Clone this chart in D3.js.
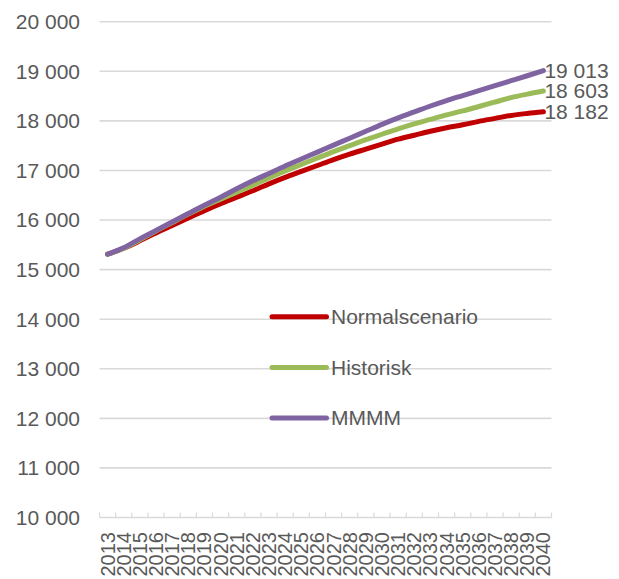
<!DOCTYPE html>
<html>
<head>
<meta charset="utf-8">
<script src="https://cdn.jsdelivr.net/npm/d3@7"></script>
<style>
  html, body { margin: 0; padding: 0; background: #fff; }
  svg { display: block; }
  text { font-family: "Liberation Sans", Arial, sans-serif; fill: #595959; }
</style>
</head>
<body>
<svg id="chart" width="619" height="579"></svg>
<script>
const years = ["2013","2014","2015","2016","2017","2018","2019","2020","2021","2022","2023","2024","2025","2026","2027","2028","2029","2030","2031","2032","2033","2034","2035","2036","2037","2038","2039","2040"];
const normalscenario = [15310,15430,15580,15740,15890,16040,16190,16330,16460,16590,16730,16860,16980,17100,17220,17330,17430,17530,17630,17710,17790,17860,17920,17990,18050,18110,18150,18182];
const historisk = [15310,15430,15600,15780,15950,16120,16280,16420,16560,16700,16850,16990,17120,17250,17380,17500,17620,17730,17840,17940,18030,18120,18200,18290,18380,18470,18540,18603];
const mmmm = [15310,15440,15620,15790,15960,16130,16300,16460,16630,16790,16940,17090,17230,17370,17510,17650,17790,17930,18060,18180,18300,18410,18510,18610,18710,18810,18910,19013];
const yTicks = [10000,11000,12000,13000,14000,15000,16000,17000,18000,19000,20000];
const seriesNames = ["Normalscenario","Historisk","MMMM"];
const seriesColors = ["#C00000","#9BBB59","#8064A2"];
const endLabels = ["18 182","18 603","19 013"];

const svg = d3.select("#chart");
const pLeft = 99.5, pRight = 551.5, pTop = 21.7, pBottom = 517.5;

const x = d3.scaleBand().domain(years).range([pLeft, pRight]).padding(0);
const xc = d => x(d) + x.bandwidth() / 2;
const y = d3.scaleLinear().domain([10000, 20000]).range([pBottom, pTop]);
const fmt = v => d3.format(",")(v).replace(/,/g, " ");

// gridlines
svg.append("g").selectAll("line").data(yTicks).join("line")
  .attr("x1", pLeft).attr("x2", pRight)
  .attr("y1", d => y(d)).attr("y2", d => y(d))
  .attr("stroke", "#d9d9d9").attr("stroke-width", 1.6);

// y labels
svg.append("g").selectAll("text").data(yTicks).join("text")
  .attr("x", 80).attr("y", d => y(d)).attr("dy", "0.35em")
  .attr("text-anchor", "end").attr("font-size", 21)
  .text(fmt);

// x axis ticks (inside, upward)
const bounds = years.map(d => x(d)).concat([x(years[years.length - 1]) + x.bandwidth()]);
svg.append("g").selectAll("line").data(bounds).join("line")
  .attr("x1", d => d).attr("x2", d => d)
  .attr("y1", pBottom).attr("y2", pBottom - 5)
  .attr("stroke", "#d9d9d9").attr("stroke-width", 1.2);

// x labels
svg.append("g").selectAll("text").data(years).join("text")
  .attr("transform", d => `translate(${xc(d)},532) rotate(-90)`)
  .attr("dy", "0.35em").attr("text-anchor", "end").attr("font-size", 20)
  .text(d => d);

// lines
const allSeries = [normalscenario, historisk, mmmm];
const line = d3.line().x((d, i) => xc(years[i])).y(d => y(d)).curve(d3.curveMonotoneX);
allSeries.forEach((s, k) => {
  svg.append("path").datum(s)
    .attr("d", line)
    .attr("fill", "none")
    .attr("stroke", seriesColors[k])
    .attr("stroke-width", 5)
    .attr("stroke-linejoin", "round")
    .attr("stroke-linecap", "round");
});

// end labels
allSeries.forEach((s, k) => {
  svg.append("text")
    .attr("x", xc(years[years.length - 1]) + 1)
    .attr("y", y(s[s.length - 1]))
    .attr("dy", "0.35em").attr("font-size", 21)
    .text(endLabels[k]);
});

// legend
const legY = [316.7, 367.5, 418];
seriesNames.forEach((n, k) => {
  svg.append("line")
    .attr("x1", 272).attr("x2", 326.5)
    .attr("y1", legY[k]).attr("y2", legY[k])
    .attr("stroke", seriesColors[k]).attr("stroke-width", 5)
    .attr("stroke-linecap", "round");
  svg.append("text")
    .attr("x", 331).attr("y", legY[k]).attr("dy", "0.35em")
    .attr("font-size", 21)
    .text(n);
});
</script>
</body>
</html>
